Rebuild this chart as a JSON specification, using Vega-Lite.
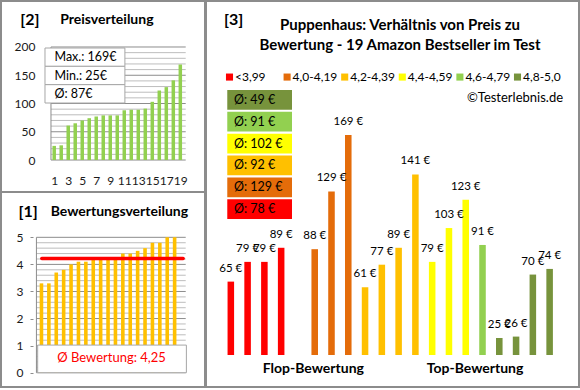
{
"$schema": "https://vega.github.io/schema/vega-lite/v6.json",
"padding": 0,
"background": "#ffffff",
"config": {
 "font": "Lato",
 "view": {"stroke": "#8c8c8c", "strokeWidth": 2},
 "locale": {"number": {"decimal": ",", "thousands": ".", "grouping": [3], "currency": ["", " €"]}},
 "text": {"color": "#000000"}
},
"datasets": {
 "products": [
  {"id": "1", "cat": "<3,99", "rating": 3.3, "price": 65},
  {"id": "2", "cat": "<3,99", "rating": 3.3, "price": 79},
  {"id": "3", "cat": "<3,99", "rating": 3.7, "price": 79},
  {"id": "4", "cat": "<3,99", "rating": 3.8, "price": 89},
  {"id": "5", "cat": "4,0-4,19", "rating": 4.0, "price": 88},
  {"id": "6", "cat": "4,0-4,19", "rating": 4.1, "price": 129},
  {"id": "7", "cat": "4,0-4,19", "rating": 4.1, "price": 169},
  {"id": "8", "cat": "4,2-4,39", "rating": 4.2, "price": 61},
  {"id": "9", "cat": "4,2-4,39", "rating": 4.2, "price": 77},
  {"id": "10", "cat": "4,2-4,39", "rating": 4.2, "price": 89},
  {"id": "11", "cat": "4,2-4,39", "rating": 4.2, "price": 141},
  {"id": "12", "cat": "4,4-4,59", "rating": 4.4, "price": 79},
  {"id": "13", "cat": "4,4-4,59", "rating": 4.4, "price": 103},
  {"id": "14", "cat": "4,4-4,59", "rating": 4.5, "price": 123},
  {"id": "15", "cat": "4,6-4,79", "rating": 4.6, "price": 91},
  {"id": "16", "cat": "4,8-5,0", "rating": 4.8, "price": 25},
  {"id": "17", "cat": "4,8-5,0", "rating": 4.8, "price": 26},
  {"id": "18", "cat": "4,8-5,0", "rating": 5.0, "price": 70},
  {"id": "19", "cat": "4,8-5,0", "rating": 5.0, "price": 74}
 ],
 "averages": [
  {"cat": "4,8-5,0", "label": "Ø: 49 €"},
  {"cat": "4,6-4,79", "label": "Ø: 91 €"},
  {"cat": "4,4-4,59", "label": "Ø: 102 €"},
  {"cat": "4,2-4,39", "label": "Ø: 92 €"},
  {"cat": "4,0-4,19", "label": "Ø: 129 €"},
  {"cat": "<3,99", "label": "Ø: 78 €"}
 ],
 "stats2": [
  {"k": "max", "label": "Max.: 169€"},
  {"k": "min", "label": "Min.: 25€"},
  {"k": "avg", "label": "Ø: 87€"}
 ],
 "stats1": [{"avg": 4.22, "label": "Ø Bewertung: 4,25"}],
 "grid2": [{"g":0},{"g":10},{"g":20},{"g":30},{"g":40},{"g":50},{"g":60},{"g":70},{"g":80},{"g":90},{"g":100},{"g":110},{"g":120},{"g":130},{"g":140},{"g":150},{"g":160},{"g":170},{"g":180},{"g":190},{"g":200}],
 "grid1": [{"g":0},{"g":0.2},{"g":0.4},{"g":0.6},{"g":0.8},{"g":1},{"g":1.2},{"g":1.4},{"g":1.6},{"g":1.8},{"g":2},{"g":2.2},{"g":2.4},{"g":2.6},{"g":2.8},{"g":3},{"g":3.2},{"g":3.4},{"g":3.6},{"g":3.8},{"g":4},{"g":4.2},{"g":4.4},{"g":4.6},{"g":4.8},{"g":5}]
},
"spacing": -2,
"hconcat": [
 {"spacing": 0, "bounds": "flush", "vconcat": [
  {
   "width": 204, "height": 191,
   "resolve": {"scale": {"y": "independent"}},
   "layer": [
    {"layer": [
     {"data": {"name": "grid2"}, "mark": {"type": "rule", "strokeWidth": 1},
      "encoding": {
       "x": {"datum": 0.538, "type": "quantitative", "scale": {"domain": [-5.882, 21.81], "nice": false, "zero": false},
             "axis": {"values": [1,3,5,7,9,11,13,15,17,19], "format": "d", "offset": -32, "labelPadding": 15, "ticks": false, "tickSize": 0, "domain": false, "grid": false, "labelOverlap": false, "labelFlush": false, "labelBound": false, "labelFontSize": 12, "labelColor": "#1a1a1a", "title": null}},
       "x2": {"datum": 19.77},
       "y": {"field": "g", "type": "quantitative", "scale": {"domain": [-56.6, 281.4], "nice": false, "zero": false},
             "axis": {"values": [0,50,100,150,200], "offset": -47, "labelPadding": 13, "ticks": false, "tickSize": 0, "domain": false, "grid": false, "labelOverlap": false, "labelFontSize": 12, "labelColor": "#1a1a1a", "title": null}},
       "color": {"condition": {"test": "datum.g % 50 === 0", "value": "#8c8c8c"}, "value": "#bdbdbd"}
      }},
     {"data": {"values": [{}]}, "mark": {"type": "rule", "color": "#8c8c8c", "strokeWidth": 1},
      "encoding": {
       "x": {"datum": 0.538, "type": "quantitative", "scale": {"domain": [-5.882, 21.81], "nice": false, "zero": false},
             "axis": {"values": [1,3,5,7,9,11,13,15,17,19], "format": "d", "offset": -32, "labelPadding": 15, "ticks": false, "tickSize": 0, "domain": false, "grid": false, "labelOverlap": false, "labelFlush": false, "labelBound": false, "labelFontSize": 12, "labelColor": "#1a1a1a", "title": null}},
       "y": {"datum": 0, "type": "quantitative", "scale": {"domain": [-56.6, 281.4], "nice": false, "zero": false},
             "axis": {"values": [0,50,100,150,200], "offset": -47, "labelPadding": 13, "ticks": false, "tickSize": 0, "domain": false, "grid": false, "labelOverlap": false, "labelFontSize": 12, "labelColor": "#1a1a1a", "title": null}},
       "y2": {"datum": 200}
      }},
     {"data": {"name": "products"},
      "transform": [{"window": [{"op": "row_number", "as": "nr"}], "sort": [{"field": "price", "order": "ascending"}]}],
      "mark": {"type": "bar", "orient": "vertical", "size": 3.5, "color": "#92D050"},
      "encoding": {
       "x": {"field": "nr", "type": "quantitative", "scale": {"domain": [-5.882, 21.81], "nice": false, "zero": false},
             "axis": {"values": [1,3,5,7,9,11,13,15,17,19], "format": "d", "offset": -32, "labelPadding": 15, "ticks": false, "tickSize": 0, "domain": false, "grid": false, "labelOverlap": false, "labelFlush": false, "labelBound": false, "labelFontSize": 12, "labelColor": "#1a1a1a", "title": null}},
       "y": {"field": "price", "type": "quantitative", "scale": {"domain": [-56.6, 281.4], "nice": false, "zero": false},
             "axis": {"values": [0,50,100,150,200], "offset": -47, "labelPadding": 13, "ticks": false, "tickSize": 0, "domain": false, "grid": false, "labelOverlap": false, "labelFontSize": 12, "labelColor": "#1a1a1a", "title": null}}
      }},
     {"data": {"values": [{"t": "[2]"}]},
      "mark": {"type": "text", "align": "left", "baseline": "middle", "fontSize": 16, "fontWeight": "bold"},
      "encoding": {
       "x": {"datum": -3.846, "type": "quantitative", "scale": {"domain": [-5.882, 21.81], "nice": false, "zero": false},
             "axis": {"values": [1,3,5,7,9,11,13,15,17,19], "format": "d", "offset": -32, "labelPadding": 15, "ticks": false, "tickSize": 0, "domain": false, "grid": false, "labelOverlap": false, "labelFlush": false, "labelBound": false, "labelFontSize": 12, "labelColor": "#1a1a1a", "title": null}},
       "y": {"datum": 247.8, "type": "quantitative", "scale": {"domain": [-56.6, 281.4], "nice": false, "zero": false},
             "axis": {"values": [0,50,100,150,200], "offset": -47, "labelPadding": 13, "ticks": false, "tickSize": 0, "domain": false, "grid": false, "labelOverlap": false, "labelFontSize": 12, "labelColor": "#1a1a1a", "title": null}},
       "text": {"field": "t"}
      }},
     {"data": {"values": [{"t": "Preisverteilung"}]},
      "mark": {"type": "text", "align": "left", "baseline": "middle", "fontSize": 14, "fontWeight": "bold"},
      "encoding": {
       "x": {"datum": 1.855, "type": "quantitative", "scale": {"domain": [-5.882, 21.81], "nice": false, "zero": false},
             "axis": {"values": [1,3,5,7,9,11,13,15,17,19], "format": "d", "offset": -32, "labelPadding": 15, "ticks": false, "tickSize": 0, "domain": false, "grid": false, "labelOverlap": false, "labelFlush": false, "labelBound": false, "labelFontSize": 12, "labelColor": "#1a1a1a", "title": null}},
       "y": {"datum": 247.8, "type": "quantitative", "scale": {"domain": [-56.6, 281.4], "nice": false, "zero": false},
             "axis": {"values": [0,50,100,150,200], "offset": -47, "labelPadding": 13, "ticks": false, "tickSize": 0, "domain": false, "grid": false, "labelOverlap": false, "labelFontSize": 12, "labelColor": "#1a1a1a", "title": null}},
       "text": {"field": "t"}
      }}
    ]},
    {"layer": [
     {"data": {"name": "stats2"}, "mark": {"type": "rect", "fill": "#ffffff", "stroke": "#a6a6a6", "strokeWidth": 1},
      "encoding": {
       "x": {"datum": -0.317, "type": "quantitative", "scale": {"domain": [-5.882, 21.81], "nice": false, "zero": false},
             "axis": {"values": [1,3,5,7,9,11,13,15,17,19], "format": "d", "offset": -32, "labelPadding": 15, "ticks": false, "tickSize": 0, "domain": false, "grid": false, "labelOverlap": false, "labelFlush": false, "labelBound": false, "labelFontSize": 12, "labelColor": "#1a1a1a", "title": null}},
       "x2": {"datum": 11.09},
       "y": {"field": "k", "type": "nominal", "scale": {"type": "band", "domain": ["max", "min", "avg"], "range": [47, 102], "paddingInner": 0, "paddingOuter": 0}, "axis": null}
      }},
     {"data": {"name": "stats2"}, "mark": {"type": "text", "align": "left", "baseline": "middle", "fontSize": 12.5},
      "encoding": {
       "x": {"datum": 1.04, "type": "quantitative", "scale": {"domain": [-5.882, 21.81], "nice": false, "zero": false},
             "axis": {"values": [1,3,5,7,9,11,13,15,17,19], "format": "d", "offset": -32, "labelPadding": 15, "ticks": false, "tickSize": 0, "domain": false, "grid": false, "labelOverlap": false, "labelFlush": false, "labelBound": false, "labelFontSize": 12, "labelColor": "#1a1a1a", "title": null}},
       "y": {"field": "k", "type": "nominal", "scale": {"type": "band", "domain": ["max", "min", "avg"], "range": [47, 102], "paddingInner": 0, "paddingOuter": 0}, "axis": null},
       "text": {"field": "label"}
      }}
    ]}
   ]
  },
  {
   "width": 204, "height": 195,
   "layer": [
    {"data": {"name": "grid1"}, "mark": {"type": "rule", "strokeWidth": 1},
     "encoding": {
      "x": {"datum": 0.319, "type": "quantitative", "scale": {"domain": [-3.794, 22.43], "nice": false, "zero": false}, "axis": null},
      "x2": {"datum": 20.5},
      "y": {"field": "g", "type": "quantitative", "scale": {"domain": [-0.528, 6.674], "nice": false, "zero": false},
            "axis": {"values": [0,1,2,3,4,5], "offset": -32, "ticks": true, "tickSize": 3, "tickColor": "#8c8c8c", "labelPadding": 7, "domain": false, "grid": false, "labelOverlap": false, "labelFontSize": 12, "labelColor": "#1a1a1a", "title": null}},
      "color": {"condition": {"test": "datum.g % 1 === 0", "value": "#8c8c8c"}, "value": "#bdbdbd"}
     }},
    {"data": {"values": [{}]}, "mark": {"type": "rule", "color": "#8c8c8c", "strokeWidth": 1},
     "encoding": {
      "x": {"datum": 0.319, "type": "quantitative", "scale": {"domain": [-3.794, 22.43], "nice": false, "zero": false}, "axis": null},
      "y": {"datum": 0, "type": "quantitative", "scale": {"domain": [-0.528, 6.674], "nice": false, "zero": false},
            "axis": {"values": [0,1,2,3,4,5], "offset": -32, "ticks": true, "tickSize": 3, "tickColor": "#8c8c8c", "labelPadding": 7, "domain": false, "grid": false, "labelOverlap": false, "labelFontSize": 12, "labelColor": "#1a1a1a", "title": null}},
      "y2": {"datum": 5}
     }},
    {"data": {"name": "products"},
     "transform": [{"window": [{"op": "row_number", "as": "nr"}], "sort": [{"field": "rating", "order": "ascending"}]}],
     "mark": {"type": "bar", "orient": "vertical", "size": 3.6, "color": "#FFC000"},
     "encoding": {
      "x": {"field": "nr", "type": "quantitative", "scale": {"domain": [-3.794, 22.43], "nice": false, "zero": false}, "axis": null},
      "y": {"field": "rating", "type": "quantitative", "scale": {"domain": [-0.528, 6.674], "nice": false, "zero": false},
            "axis": {"values": [0,1,2,3,4,5], "offset": -32, "ticks": true, "tickSize": 3, "tickColor": "#8c8c8c", "labelPadding": 7, "domain": false, "grid": false, "labelOverlap": false, "labelFontSize": 12, "labelColor": "#1a1a1a", "title": null}}
     }},
    {"data": {"name": "stats1"}, "mark": {"type": "rule", "color": "#FF0000", "strokeWidth": 3.5, "strokeCap": "round"},
     "encoding": {
      "x": {"datum": 1.05, "type": "quantitative", "scale": {"domain": [-3.794, 22.43], "nice": false, "zero": false}, "axis": null},
      "x2": {"datum": 20.15},
      "y": {"field": "avg", "type": "quantitative", "scale": {"domain": [-0.528, 6.674], "nice": false, "zero": false},
            "axis": {"values": [0,1,2,3,4,5], "offset": -32, "ticks": true, "tickSize": 3, "tickColor": "#8c8c8c", "labelPadding": 7, "domain": false, "grid": false, "labelOverlap": false, "labelFontSize": 12, "labelColor": "#1a1a1a", "title": null}}
     }},
    {"data": {"name": "stats1"}, "mark": {"type": "rect", "fill": "#ffffff", "stroke": "#a6a6a6", "strokeWidth": 1},
     "encoding": {
      "x": {"datum": 0.486, "type": "quantitative", "scale": {"domain": [-3.794, 22.43], "nice": false, "zero": false}, "axis": null},
      "x2": {"datum": 20.59},
      "y": {"datum": 0, "type": "quantitative", "scale": {"domain": [-0.528, 6.674], "nice": false, "zero": false},
            "axis": {"values": [0,1,2,3,4,5], "offset": -32, "ticks": true, "tickSize": 3, "tickColor": "#8c8c8c", "labelPadding": 7, "domain": false, "grid": false, "labelOverlap": false, "labelFontSize": 12, "labelColor": "#1a1a1a", "title": null}},
      "y2": {"datum": 1.02}
     }},
    {"data": {"name": "stats1"}, "mark": {"type": "text", "align": "center", "baseline": "middle", "fontSize": 13, "color": "#FF0000"},
     "encoding": {
      "x": {"datum": 10.47, "type": "quantitative", "scale": {"domain": [-3.794, 22.43], "nice": false, "zero": false}, "axis": null},
      "y": {"datum": 0.55, "type": "quantitative", "scale": {"domain": [-0.528, 6.674], "nice": false, "zero": false},
            "axis": {"values": [0,1,2,3,4,5], "offset": -32, "ticks": true, "tickSize": 3, "tickColor": "#8c8c8c", "labelPadding": 7, "domain": false, "grid": false, "labelOverlap": false, "labelFontSize": 12, "labelColor": "#1a1a1a", "title": null}},
      "text": {"field": "label"}
     }},
    {"data": {"values": [{"t": "[1]"}]},
     "mark": {"type": "text", "align": "left", "baseline": "middle", "fontSize": 16, "fontWeight": "bold"},
     "encoding": {
      "x": {"datum": -2.12, "type": "quantitative", "scale": {"domain": [-3.794, 22.43], "nice": false, "zero": false}, "axis": null},
      "y": {"datum": 5.95, "type": "quantitative", "scale": {"domain": [-0.528, 6.674], "nice": false, "zero": false},
            "axis": {"values": [0,1,2,3,4,5], "offset": -32, "ticks": true, "tickSize": 3, "tickColor": "#8c8c8c", "labelPadding": 7, "domain": false, "grid": false, "labelOverlap": false, "labelFontSize": 12, "labelColor": "#1a1a1a", "title": null}},
      "text": {"field": "t"}
     }},
    {"data": {"values": [{"t": "Bewertungsverteilung"}]},
     "mark": {"type": "text", "align": "left", "baseline": "middle", "fontSize": 14, "fontWeight": "bold"},
     "encoding": {
      "x": {"datum": 2.247, "type": "quantitative", "scale": {"domain": [-3.794, 22.43], "nice": false, "zero": false}, "axis": null},
      "y": {"datum": 5.95, "type": "quantitative", "scale": {"domain": [-0.528, 6.674], "nice": false, "zero": false},
            "axis": {"values": [0,1,2,3,4,5], "offset": -32, "ticks": true, "tickSize": 3, "tickColor": "#8c8c8c", "labelPadding": 7, "domain": false, "grid": false, "labelOverlap": false, "labelFontSize": 12, "labelColor": "#1a1a1a", "title": null}},
      "text": {"field": "t"}
     }}
   ]
  }
 ]},
 {
  "width": 373, "height": 386,
  "resolve": {"scale": {"x": "independent", "y": "independent"}},
  "layer": [
   {"layer": [
    {"data": {"name": "products"}, "mark": {"type": "bar"},
     "encoding": {
      "x": {"field": "id", "type": "ordinal", "scale": {"type": "band", "domain": ["1","2","3","4","gap","5","6","7","8","9","10","11","12","13","14","15","16","17","18","19"], "range": [21.55, 346.9], "paddingInner": 0.61, "paddingOuter": 0, "round": false}, "axis": null},
      "y": {"field": "price", "type": "quantitative", "scale": {"domain": [-9.76, 264.06], "nice": false, "zero": false}, "axis": null},
      "y2": {"datum": 12.94},
      "color": {"field": "cat", "type": "nominal",
        "scale": {"domain": ["<3,99","4,0-4,19","4,2-4,39","4,4-4,59","4,6-4,79","4,8-5,0"], "range": ["#FF0000","#E46C0A","#FFC000","#FFFF00","#92D050","#77933C"]},
        "legend": null}
     }},
    {"data": {"name": "products"}, "mark": {"type": "text", "baseline": "middle", "align": "center", "dy": -13, "fontSize": 11.5},
     "encoding": {
      "x": {"field": "id", "type": "ordinal", "scale": {"type": "band", "domain": ["1","2","3","4","gap","5","6","7","8","9","10","11","12","13","14","15","16","17","18","19"], "range": [21.55, 346.9], "paddingInner": 0.61, "paddingOuter": 0, "round": false}, "axis": null},
      "y": {"field": "price", "type": "quantitative", "scale": {"domain": [-9.76, 264.06], "nice": false, "zero": false}, "axis": null},
      "text": {"field": "price", "type": "quantitative", "format": "$d"}
     }},
    {"data": {"values": [{"t": "[3]"}]}, "mark": {"type": "text", "align": "left", "baseline": "middle", "dx": -6.8, "fontSize": 16, "fontWeight": "bold"},
     "encoding": {
      "x": {"datum": "1", "type": "ordinal", "scale": {"type": "band", "domain": ["1","2","3","4","gap","5","6","7","8","9","10","11","12","13","14","15","16","17","18","19"], "range": [21.55, 346.9], "paddingInner": 0.61, "paddingOuter": 0, "round": false}, "axis": null},
      "y": {"datum": 250.6, "type": "quantitative", "scale": {"domain": [-9.76, 264.06], "nice": false, "zero": false}, "axis": null},
      "text": {"field": "t"}
     }},
    {"data": {"values": [{"t": ["Puppenhaus: Verhältnis von Preis zu", "Bewertung - 19 Amazon Bestseller im Test"]}]}, "mark": {"type": "text", "align": "center", "baseline": "middle", "dx": 1.4, "lineHeight": 20, "fontSize": 15, "fontWeight": "bold"},
     "encoding": {
      "x": {"datum": "10", "type": "ordinal", "scale": {"type": "band", "domain": ["1","2","3","4","gap","5","6","7","8","9","10","11","12","13","14","15","16","17","18","19"], "range": [21.55, 346.9], "paddingInner": 0.61, "paddingOuter": 0, "round": false}, "axis": null},
      "y": {"datum": 247.0, "type": "quantitative", "scale": {"domain": [-9.76, 264.06], "nice": false, "zero": false}, "axis": null},
      "text": {"field": "t"}
     }},
    {"data": {"values": [{"t": "©Testerlebnis.de"}]}, "mark": {"type": "text", "align": "right", "baseline": "middle", "dx": 13.4, "fontSize": 13},
     "encoding": {
      "x": {"datum": "19", "type": "ordinal", "scale": {"type": "band", "domain": ["1","2","3","4","gap","5","6","7","8","9","10","11","12","13","14","15","16","17","18","19"], "range": [21.55, 346.9], "paddingInner": 0.61, "paddingOuter": 0, "round": false}, "axis": null},
      "y": {"datum": 195.25, "type": "quantitative", "scale": {"domain": [-9.76, 264.06], "nice": false, "zero": false}, "axis": null},
      "text": {"field": "t"}
     }},
    {"data": {"values": [{"t": "Flop-Bewertung"}]}, "mark": {"type": "text", "align": "center", "baseline": "middle", "dx": -1.4, "fontSize": 14, "fontWeight": "bold"},
     "encoding": {
      "x": {"datum": "5", "type": "ordinal", "scale": {"type": "band", "domain": ["1","2","3","4","gap","5","6","7","8","9","10","11","12","13","14","15","16","17","18","19"], "range": [21.55, 346.9], "paddingInner": 0.61, "paddingOuter": 0, "round": false}, "axis": null},
      "y": {"datum": 3.0, "type": "quantitative", "scale": {"domain": [-9.76, 264.06], "nice": false, "zero": false}, "axis": null},
      "text": {"field": "t"}
     }},
    {"data": {"values": [{"t": "Top-Bewertung"}]}, "mark": {"type": "text", "align": "center", "baseline": "middle", "dx": -7.5, "fontSize": 14, "fontWeight": "bold"},
     "encoding": {
      "x": {"datum": "15", "type": "ordinal", "scale": {"type": "band", "domain": ["1","2","3","4","gap","5","6","7","8","9","10","11","12","13","14","15","16","17","18","19"], "range": [21.55, 346.9], "paddingInner": 0.61, "paddingOuter": 0, "round": false}, "axis": null},
      "y": {"datum": 3.0, "type": "quantitative", "scale": {"domain": [-9.76, 264.06], "nice": false, "zero": false}, "axis": null},
      "text": {"field": "t"}
     }}
   ]},
   {"layer": [
    {"data": {"name": "averages"}, "mark": {"type": "rect", "xOffset": -3.55, "x2Offset": -5.94},
     "encoding": {
      "x": {"datum": "1", "type": "ordinal", "scale": {"type": "band", "domain": ["1","2","3","4","gap","5","6","7","8","9","10","11","12","13","14","15","16","17","18","19"], "range": [21.55, 346.9], "paddingInner": 0.61, "paddingOuter": 0, "round": false}, "axis": null},
      "x2": {"datum": "gap"},
      "y": {"field": "cat", "type": "nominal", "scale": {"type": "band", "domain": ["4,8-5,0","4,6-4,79","4,4-4,59","4,2-4,39","4,0-4,19","<3,99"], "range": [89, 218], "paddingInner": 0.1, "paddingOuter": 0}, "axis": null},
      "color": {"field": "cat", "type": "nominal",
        "scale": {"domain": ["<3,99","4,0-4,19","4,2-4,39","4,4-4,59","4,6-4,79","4,8-5,0"], "range": ["#FF0000","#E46C0A","#FFC000","#FFFF00","#92D050","#77933C"]},
        "legend": null}
     }},
    {"data": {"name": "averages"}, "mark": {"type": "text", "align": "left", "baseline": "middle", "dx": 3.2, "fontSize": 12.5},
     "encoding": {
      "x": {"datum": "1", "type": "ordinal", "scale": {"type": "band", "domain": ["1","2","3","4","gap","5","6","7","8","9","10","11","12","13","14","15","16","17","18","19"], "range": [21.55, 346.9], "paddingInner": 0.61, "paddingOuter": 0, "round": false}, "axis": null},
      "y": {"field": "cat", "type": "nominal", "scale": {"type": "band", "domain": ["4,8-5,0","4,6-4,79","4,4-4,59","4,2-4,39","4,0-4,19","<3,99"], "range": [89, 218], "paddingInner": 0.1, "paddingOuter": 0}, "axis": null},
      "text": {"field": "label"}
     }}
   ]},
   {"layer": [
    {"data": {"name": "averages"}, "mark": {"type": "point", "shape": "square", "filled": true, "size": 50, "opacity": 1, "strokeWidth": 0},
     "encoding": {
      "x": {"field": "cat", "type": "nominal", "scale": {"type": "point", "domain": ["<3,99","4,0-4,19","4,2-4,39","4,4-4,59","4,6-4,79","4,8-5,0"], "range": [23.5, 311.5], "padding": 0}, "axis": null},
      "y": {"datum": 210.1, "type": "quantitative", "scale": {"domain": [-9.76, 264.06], "nice": false, "zero": false}, "axis": null},
      "color": {"field": "cat", "type": "nominal",
        "scale": {"domain": ["<3,99","4,0-4,19","4,2-4,39","4,4-4,59","4,6-4,79","4,8-5,0"], "range": ["#FF0000","#E46C0A","#FFC000","#FFFF00","#92D050","#77933C"]},
        "legend": null}
     }},
    {"data": {"name": "averages"}, "mark": {"type": "text", "align": "left", "baseline": "middle", "dx": 5.5, "fontSize": 12},
     "encoding": {
      "x": {"field": "cat", "type": "nominal", "scale": {"type": "point", "domain": ["<3,99","4,0-4,19","4,2-4,39","4,4-4,59","4,6-4,79","4,8-5,0"], "range": [23.5, 311.5], "padding": 0}, "axis": null},
      "y": {"datum": 210.1, "type": "quantitative", "scale": {"domain": [-9.76, 264.06], "nice": false, "zero": false}, "axis": null},
      "text": {"field": "cat"}
     }}
   ]}
  ]
 }
]
}
